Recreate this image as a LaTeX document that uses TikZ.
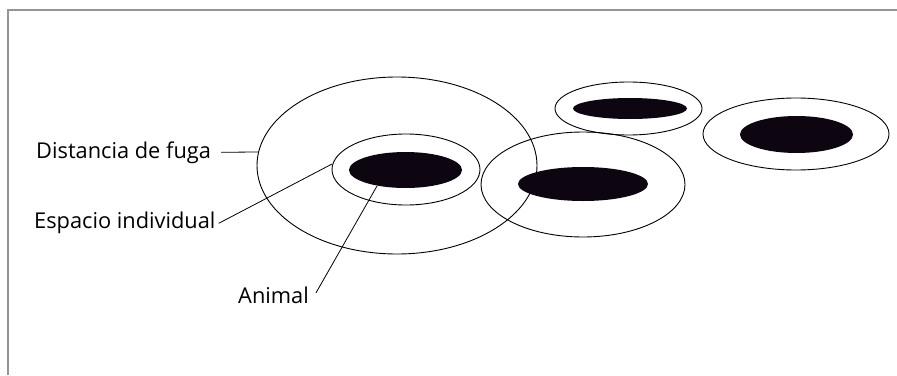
\documentclass[tikz,border=0pt]{standalone}
\usepackage{fontspec}
\setmainfont{Open Sans}
\usetikzlibrary{shapes.geometric}
\definecolor{framegray}{HTML}{959595}
\definecolor{animalfill}{HTML}{0D0610}
\begin{document}
\begin{tikzpicture}[x=1pt,y=-1pt,
  zone/.style={ellipse,draw=black,line width=0.9pt,inner sep=0pt},
  animal/.style={ellipse,fill=animalfill,draw=none,inner sep=0pt},
  lbl/.style={font=\fontsize{21.8}{26}\selectfont,inner sep=0pt,anchor=base west},
  leader/.style={draw=black,line width=0.8pt}]
\useasboundingbox (0,0) rectangle (897,375);
% frame
\draw[framegray,line width=2.4pt] (8,375) -- (8,10) -- (897,10);
% zones
\node[zone,minimum width=280pt,minimum height=177pt] (flight1) at (397,165.5) {};
\node[zone,minimum width=148pt,minimum height=71pt] (space1) at (406,169.5) {};
\node[animal,minimum width=113pt,minimum height=36pt] (animal1) at (405.5,170) {};
\node[zone,minimum width=204pt,minimum height=105pt] (zone2) at (583,184.5) {};
\node[animal,minimum width=130pt,minimum height=34pt] (animal2) at (583,184) {};
\node[zone,minimum width=147pt,minimum height=53pt] (zone3) at (628.5,108.5) {};
\node[animal,minimum width=114pt,minimum height=21pt] (animal3) at (630,108.5) {};
\node[zone,minimum width=186pt,minimum height=72pt] (zone4) at (796,134) {};
\node[animal,minimum width=113pt,minimum height=37pt] (animal4) at (796.5,134.5) {};
% labels
\node[lbl] (ldist) at (36,158) {Distancia de fuga};
\node[lbl] (lesp) at (34,228) {Espacio individual};
\node[lbl] (lani) at (238,303) {Animal};
\coordinate (cdist) at (258,152);
\coordinate (cesp) at (332,164);
\coordinate (cani) at (377,186);
\draw[leader] ([xshift=10pt]ldist.east) -- (cdist);
\draw[leader] ([xshift=3pt,yshift=-1pt]lesp.east) -- (cesp);
\draw[leader] ([xshift=7pt,yshift=2pt]lani.east) -- (cani);
\end{tikzpicture}
\end{document}
